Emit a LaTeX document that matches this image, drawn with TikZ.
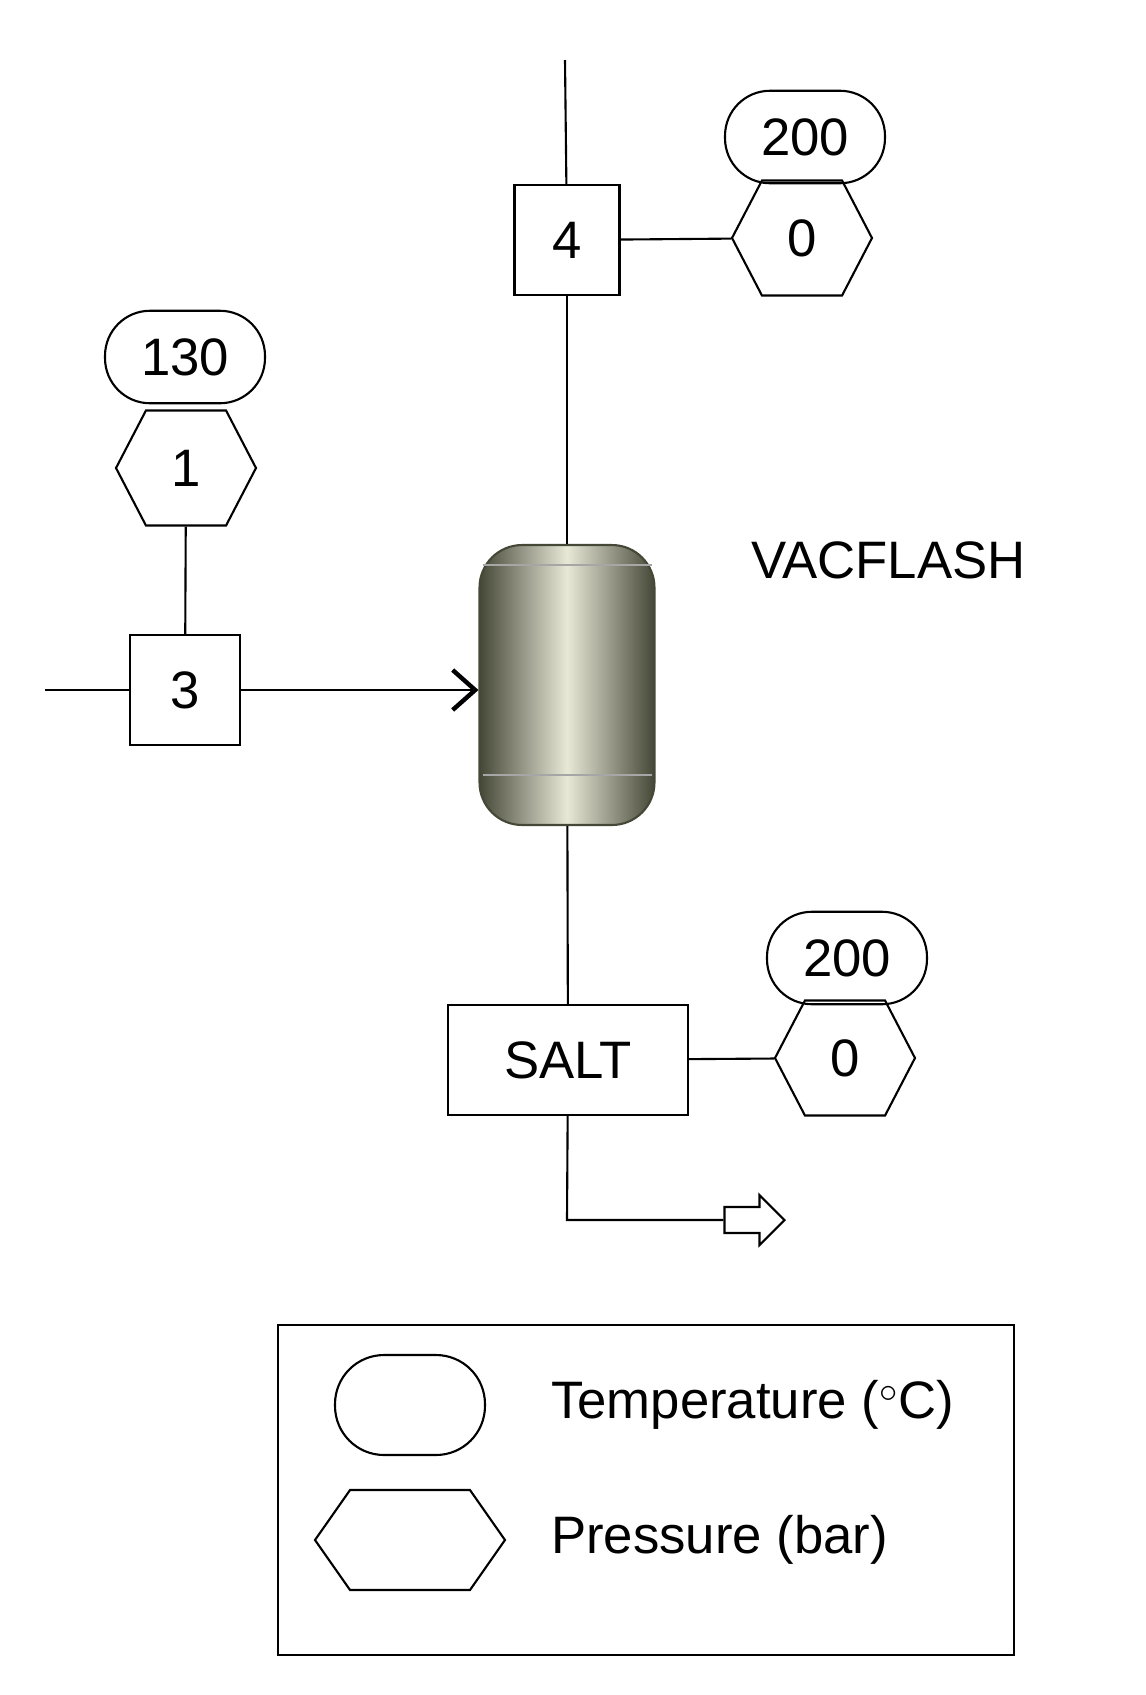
\documentclass[tikz,border=0pt]{standalone}
\usepackage{fontspec}
\setmainfont{Liberation Sans}
\usetikzlibrary{shapes.symbols,shapes.arrows,arrows.meta}
\definecolor{vesseledge}{RGB}{70,72,55}
\definecolor{vesselmid}{RGB}{232,232,215}

\begin{document}
\begin{tikzpicture}[
		x = 0.02cm, y = -0.02cm,
		every node/.style = {font = \fontsize{30}{36}\selectfont},
		stream/.style = {
			draw,
			rectangle,
			line width = 1.2pt,
			inner sep = 0,
			minimum height = 2.2cm
		},
		temp/.style = {
			draw,
			rectangle,
			rounded corners = 0.9cm,
			line width = 1.2pt,
			inner sep = 0,
			minimum width = 3.2cm,
			minimum height = 1.85cm
		},
		pres/.style = {
			draw,
			signal,
			signal to = east and west,
			signal pointer angle = 125,
			line width = 1.2pt,
			inner sep = 0,
			minimum width = 2.8cm,
			minimum height = 2.3cm
		},
		pipe/.style = {line width = 1.2pt}
	]
	\useasboundingbox (0, 0) rectangle (1146, 1695);

	\coordinate (top) at (565, 60);
	\coordinate (feed) at (45, 690);
	\coordinate (bend) at (567, 1220);

	\node [stream, minimum width = 2.1cm] (s4) at (567, 240) {4};
	\node [pres] (p4) at (802, 238) {0};
	\node [temp] (t4) at (805, 137) {200};

	\node [stream, minimum width = 2.2cm] (s3) at (185, 690) {3};
	\node [pres] (p3) at (186, 468) {1};
	\node [temp] (t3) at (185, 357) {130};

	\node [stream, minimum width = 4.8cm] (salt) at (568, 1060) {SALT};
	\node [pres] (ps) at (845, 1058) {0};
	\node [temp] (ts) at (847, 958) {200};

	\node [draw = vesseledge, line width = 1.2pt, rounded corners = 0.85cm, minimum width = 3.5cm, minimum height = 5.6cm,
		left color = vesseledge, right color = vesseledge, middle color = vesselmid] (flash) at (567, 685) {};
	\draw [black!35, line width = 0.8pt] (483, 565) -- (652, 565);
	\draw [black!35, line width = 0.8pt] (483, 775) -- (652, 775);
	\node [anchor = west] at (745, 560) {VACFLASH};

	\node [draw, single arrow, line width = 1.2pt, fill = white, inner sep = 0.12cm,
		minimum height = 1.2cm, minimum width = 1cm, single arrow head extend = 0.13cm] (out) at (748, 1220) {};

	\draw [pipe] (top) -- (s4);
	\draw [pipe] (s4) -- (p4);
	\draw [pipe] (s4) -- (flash);
	\draw [pipe] (feed) -- (s3);
	\draw [pipe, -{Straight Barb[length = 0.45cm, width = 0.8cm, line width = 2.5pt]}] (s3) -- (s3 -| flash.west);
	\draw [pipe] (s3) -- (p3);
	\draw [pipe] (flash) -- (salt);
	\draw [pipe] (salt) -- (ps);
	\draw [pipe] (salt) -- (bend) -- (out.tail);

	% legend
	\node [draw, line width = 1.2pt, minimum width = 14.74cm, minimum height = 6.6cm] (legend) at (646, 1490) {};
	\node [temp, minimum width = 3cm, minimum height = 2cm, rounded corners = 0.98cm] (lt) at (410, 1405) {};
	\node [pres, minimum width = 3.8cm, minimum height = 2cm, signal pointer angle = 110] (lp) at (410, 1540) {};
	\node [anchor = west] at (545, 1405) {Temperature ($^\circ$C)};
	\node [anchor = west] at (545, 1540) {Pressure (bar)};
\end{tikzpicture}
\end{document}
